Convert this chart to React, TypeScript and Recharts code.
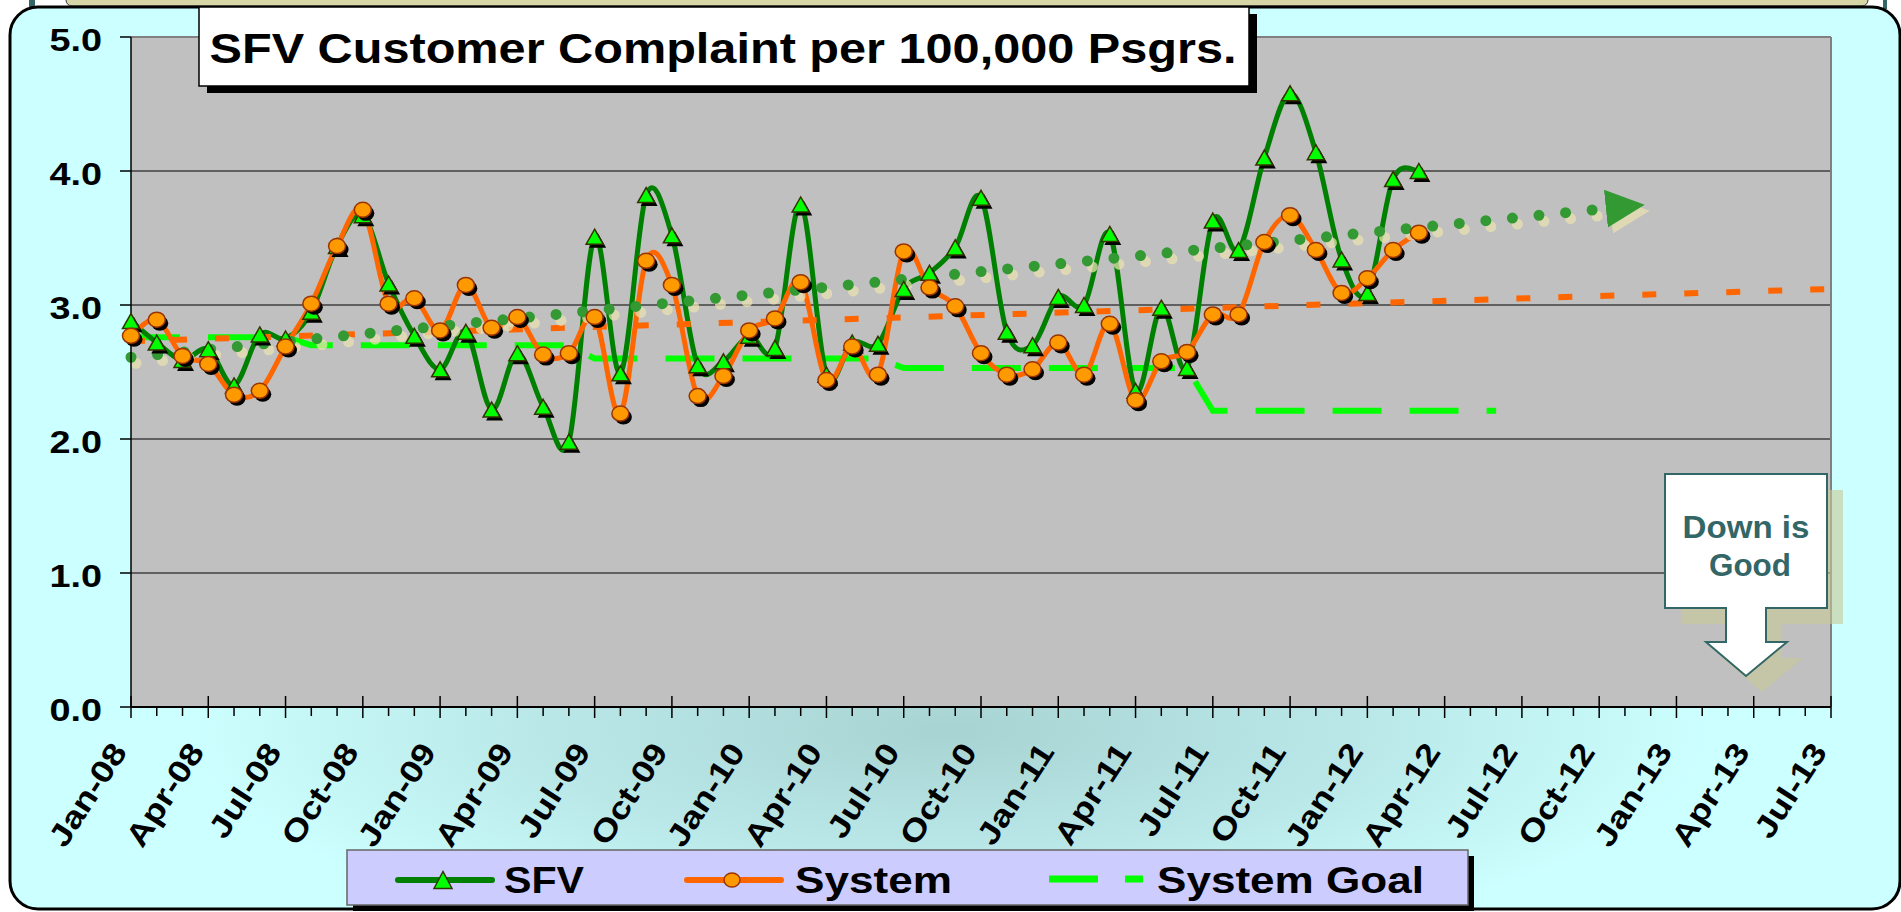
import React from 'react';
import { LineChart, Line, XAxis, YAxis, CartesianGrid, ReferenceLine } from 'recharts';

const FONT = "'Liberation Sans', Arial, sans-serif";

// x axis labels, one every 3 months (Jan-08 = month 0)
const tickLabels = [
  'Jan-08', 'Apr-08', 'Jul-08', 'Oct-08', 'Jan-09', 'Apr-09', 'Jul-09', 'Oct-09',
  'Jan-10', 'Apr-10', 'Jul-10', 'Oct-10', 'Jan-11', 'Apr-11', 'Jul-11', 'Oct-11',
  'Jan-12', 'Apr-12', 'Jul-12', 'Oct-12', 'Jan-13', 'Apr-13', 'Jul-13',
];
const yTicks = [0, 1, 2, 3, 4, 5];

// monthly values, Jan-08 .. Mar-12
const sfvValues = [
  2.88, 2.72, 2.59, 2.67, 2.40, 2.78, 2.75, 2.95, 3.44, 3.67, 3.16, 2.77,
  2.52, 2.80, 2.22, 2.64, 2.24, 1.98, 3.51, 2.49, 3.82, 3.52, 2.55, 2.58,
  2.77, 2.68, 3.75, 2.48, 2.72, 2.71, 3.12, 3.24, 3.43, 3.80, 2.80, 2.70,
  3.06, 3.00, 3.53, 2.36, 2.98, 2.53, 3.63, 3.41, 4.10, 4.58, 4.14, 3.34,
  3.09, 3.94, 4.00,
];
const systemValues = [
  2.77, 2.89, 2.62, 2.56, 2.33, 2.36, 2.69, 3.01, 3.44, 3.71, 3.01, 3.05,
  2.81, 3.15, 2.83, 2.91, 2.63, 2.64, 2.91, 2.19, 3.33, 3.15, 2.32, 2.47,
  2.81, 2.90, 3.17, 2.44, 2.69, 2.48, 3.40, 3.13, 2.99, 2.64, 2.48, 2.52,
  2.72, 2.48, 2.86, 2.29, 2.58, 2.65, 2.93, 2.93, 3.47, 3.67, 3.41, 3.09,
  3.20, 3.41, 3.54,
];
// monthly goal, Jan-08 .. Jun-12
const goalValues = [
  2.76, 2.76, 2.76, 2.76, 2.76, 2.76, 2.76,
  2.70, 2.70, 2.70, 2.70, 2.70, 2.70, 2.70, 2.70, 2.70, 2.70, 2.70,
  2.60, 2.60, 2.60, 2.60, 2.60, 2.60, 2.60, 2.60, 2.60, 2.60, 2.60, 2.60,
  2.53, 2.53, 2.53, 2.53, 2.53, 2.53, 2.53, 2.53, 2.53, 2.53, 2.53, 2.53,
  2.21, 2.21, 2.21, 2.21, 2.21, 2.21, 2.21, 2.21, 2.21, 2.21, 2.21, 2.21,
];
// trendline end points: [month, value]
const sfvTrendEnds = [[0, 2.61], [57.3, 3.72]];
const systemTrendEnds = [[0, 2.73], [66, 3.12]];

const monthTicks = Array.from({ length: 67 }, (_, i) => i);

const toPoints = (vals: number[]) => vals.map((v, m) => ({ m, v }));
const sfvData = toPoints(sfvValues);
const systemData = toPoints(systemValues);
const goalData = toPoints(goalValues);
const sfvTrend = sfvTrendEnds.map(([m, v]) => ({ m, v }));
const systemTrend = systemTrendEnds.map(([m, v]) => ({ m, v }));

// excel style smoothed line (catmull-rom through the points)
const excelSmooth = (context: any) => {
  let pts: number[][] = [];
  return {
    areaStart() {},
    areaEnd() {},
    lineStart() { pts = []; },
    point(x: number, y: number) { pts.push([+x, +y]); },
    lineEnd() {
      if (!pts.length) return;
      context.moveTo(pts[0][0], pts[0][1]);
      for (let i = 0; i < pts.length - 1; i++) {
        const p0 = pts[i > 0 ? i - 1 : i];
        const p1 = pts[i];
        const p2 = pts[i + 1];
        const p3 = pts[i + 2 < pts.length ? i + 2 : i + 1];
        context.bezierCurveTo(
          p1[0] + (p2[0] - p0[0]) / 6, p1[1] + (p2[1] - p0[1]) / 6,
          p2[0] - (p3[0] - p1[0]) / 6, p2[1] - (p3[1] - p1[1]) / 6,
          p2[0], p2[1],
        );
      }
    },
  };
};

const triPoints = (cx: number, cy: number, w: number, h: number) =>
  `${cx},${cy - h / 2} ${cx + w / 2},${cy + h / 2} ${cx - w / 2},${cy + h / 2}`;

const renderTriangle = (p: any) => {
  const { cx, cy, index } = p;
  if (cx == null || cy == null) return <g key={`t${index}`} />;
  return (
    <g key={`t${index}`}>
      <polygon points={triPoints(cx + 3, cy + 3.5, 17, 15)} fill="#000" />
      <polygon points={triPoints(cx, cy, 17, 15)} fill="#00FF00" stroke="#333300" strokeWidth={1.5} />
    </g>
  );
};

const renderCircle = (p: any) => {
  const { cx, cy, index } = p;
  if (cx == null || cy == null) return <g key={`c${index}`} />;
  return (
    <g key={`c${index}`}>
      <ellipse cx={cx + 3} cy={cy + 3.5} rx={8.5} ry={7.5} fill="#000" />
      <ellipse cx={cx} cy={cy} rx={8.5} ry={7.5} fill="#FF9900" stroke="#993300" strokeWidth={1.5} />
    </g>
  );
};

function XTick(props: any) {
  const { x, y, payload } = props;
  const m = payload.value;
  const major = m % 3 === 0;
  return (
    <g>
      <line x1={x} x2={x} y1={major ? y - 11 : y} y2={y + (major ? 11 : 9)} stroke="#000" strokeWidth={1.5} />
      {major && (
        <text
          transform={`translate(${x - 3},${y + 45}) rotate(-57) scale(1.18,1)`}
          textAnchor="end"
          fontFamily={FONT}
          fontWeight="bold"
          fontSize={31}
          fill="#000"
        >
          {tickLabels[m / 3]}
        </text>
      )}
    </g>
  );
}

function YTick(props: any) {
  const { x, y, payload } = props;
  return (
    <text
      transform={`translate(${x},${y + 14}) scale(1.22,1)`}
      textAnchor="end"
      fontFamily={FONT}
      fontWeight="bold"
      fontSize={31}
      fill="#000"
    >
      {Number(payload.value).toFixed(1)}
    </text>
  );
}

const calloutPath =
  'M1665,474 H1827 V608 H1766 V642 H1787 L1746,676 L1706,642 H1726 V608 H1665 Z';

export default function App() {
  return (
    <div style={{ position: 'absolute', left: 0, top: 0, width: 1901, height: 912, overflow: 'hidden', background: '#fff' }}>
      <style>{`.sfv-trend path { filter: drop-shadow(5px 6px 0px rgba(232,226,176,0.75)); }`}</style>

      {/* slide background */}
      <svg width={1901} height={912} style={{ position: 'absolute', left: 0, top: 0 }}>
        <defs>
          <radialGradient id="panelGrad" gradientUnits="userSpaceOnUse" cx={950} cy={730} r={760}
            gradientTransform="translate(950,730) scale(1,0.3) translate(-950,-730)">
            <stop offset="0" stopColor="#A8D3D3" />
            <stop offset="0.55" stopColor="#BAE8E8" />
            <stop offset="1" stopColor="#CCFFFF" />
          </radialGradient>
          <marker id="trendArrow" markerUnits="userSpaceOnUse" markerWidth={42} markerHeight={42}
            viewBox="0 0 42 42" refX={1} refY={20} orient="auto">
            <path d="M0,1 L39,20 L0,39 Z" fill="#339933" />
          </marker>
        </defs>
        <rect x={66} y={-6} width={1802} height={12} rx={6} fill="#D6D6A6" stroke="#333" strokeWidth={1} />
        <rect x={29} y={0} width={6} height={9} fill="#336666" />
        <rect x={1883} y={0} width={4} height={9} fill="#336666" />
        <rect x={10} y={7} width={1890} height={902} rx={28} fill="url(#panelGrad)" stroke="#000" strokeWidth={3} />
      </svg>

      <div style={{ position: 'absolute', left: 0, top: 0 }}>
        <LineChart width={1901} height={912} margin={{ top: 37, right: 70, bottom: 0, left: 0 }}>
          <CartesianGrid vertical={false} fill="#C0C0C0" fillOpacity={1} stroke="#404040" strokeWidth={1.5} />
          <XAxis
            type="number"
            dataKey="m"
            domain={[0, 66]}
            ticks={monthTicks}
            interval={0}
            height={205}
            tickSize={0}
            tickMargin={0}
            tickLine={false}
            axisLine={{ stroke: '#000', strokeWidth: 2 }}
            tick={<XTick />}
          />
          <YAxis
            type="number"
            domain={[0, 5]}
            ticks={yTicks}
            width={131}
            tickSize={11}
            tickMargin={18}
            tickLine={{ stroke: '#000', strokeWidth: 1.5 }}
            axisLine={{ stroke: '#000', strokeWidth: 1.5 }}
            tick={<YTick />}
          />
          <ReferenceLine y={5} stroke="#808080" strokeWidth={2} />
          <ReferenceLine x={66} stroke="#808080" strokeWidth={2} />

          <Line data={goalData} dataKey="v" type="linear" stroke="#00FF00" strokeWidth={6}
            strokeDasharray="49 28" dot={false} activeDot={false} isAnimationActive={false} />
          <Line data={sfvData} dataKey="v" type={excelSmooth as any} stroke="#008000" strokeWidth={5}
            strokeLinejoin="round" dot={renderTriangle} activeDot={false} isAnimationActive={false} />
          <Line data={systemData} dataKey="v" type={excelSmooth as any} stroke="#FF6600" strokeWidth={5}
            strokeLinejoin="round" dot={renderCircle} activeDot={false} isAnimationActive={false} />
          <Line data={systemTrend} dataKey="v" type="linear" stroke="#FF6600" strokeWidth={6}
            strokeDasharray="14 28" dot={false} activeDot={false} isAnimationActive={false} />
          <Line data={sfvTrend} dataKey="v" type="linear" className="sfv-trend" stroke="#339933"
            strokeWidth={11} strokeDasharray="0 26.7" strokeLinecap="round" markerEnd="url(#trendArrow)"
            dot={false} activeDot={false} isAnimationActive={false} />
        </LineChart>
      </div>

      {/* title, legend and callout */}
      <svg width={1901} height={912} style={{ position: 'absolute', left: 0, top: 0, pointerEvents: 'none' }}>
        <rect x={207} y={14} width={1050} height={79} fill="#000" />
        <rect x={199} y={7} width={1050} height={79} fill="#fff" stroke="#000" strokeWidth={1.5} />
        <text x={209.5} y={63} fontFamily={FONT} fontWeight="bold" fontSize={42} fill="#000"
          textLength={1027} lengthAdjust="spacingAndGlyphs">
          SFV Customer Complaint per 100,000 Psgrs.
        </text>

        <path d={calloutPath} transform="translate(16,16)" fill="rgba(200,200,150,0.6)" />
        <path d={calloutPath} fill="#fff" stroke="#336666" strokeWidth={2} />
        <text x={1746} y={538} textAnchor="middle" fontFamily={FONT} fontWeight="bold" fontSize={32} fill="#336666"
          textLength={127} lengthAdjust="spacingAndGlyphs">Down is</text>
        <text x={1750} y={576} textAnchor="middle" fontFamily={FONT} fontWeight="bold" fontSize={32} fill="#336666"
          textLength={82} lengthAdjust="spacingAndGlyphs">Good</text>

        <rect x={353} y={856} width={1121} height={55} fill="#000" />
        <rect x={347} y={850} width={1121} height={55} fill="#CCCCFF" stroke="#666" strokeWidth={1.5} />
        <line x1={398} x2={492} y1={880} y2={880} stroke="#008000" strokeWidth={6} strokeLinecap="round" />
        <polygon points={triPoints(443, 880, 18, 17)} fill="#00FF00" stroke="#333300" strokeWidth={1.5} />
        <text x={504} y={893} fontFamily={FONT} fontWeight="bold" fontSize={37} fill="#000"
          textLength={80} lengthAdjust="spacingAndGlyphs">SFV</text>
        <line x1={687} x2={781} y1={880} y2={880} stroke="#FF6600" strokeWidth={6} strokeLinecap="round" />
        <ellipse cx={732} cy={880} rx={8} ry={7} fill="#FF9900" stroke="#993300" strokeWidth={1.5} />
        <text x={795} y={893} fontFamily={FONT} fontWeight="bold" fontSize={37} fill="#000"
          textLength={157} lengthAdjust="spacingAndGlyphs">System</text>
        <line x1={1049} x2={1098} y1={879} y2={879} stroke="#00FF00" strokeWidth={7} />
        <line x1={1125} x2={1143} y1={879} y2={879} stroke="#00FF00" strokeWidth={7} />
        <text x={1157} y={893} fontFamily={FONT} fontWeight="bold" fontSize={37} fill="#000"
          textLength={267} lengthAdjust="spacingAndGlyphs">System Goal</text>
      </svg>
    </div>
  );
}
